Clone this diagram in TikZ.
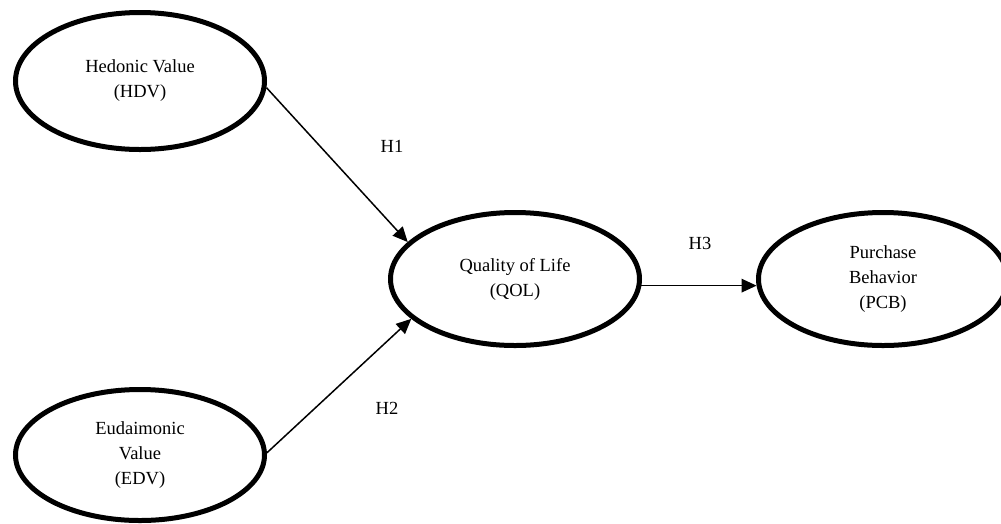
\documentclass[tikz,border=0pt]{standalone}
\usepackage{fontspec}
\setmainfont{Liberation Serif}
\usetikzlibrary{shapes.geometric,arrows.meta}
\begin{document}
\begin{tikzpicture}[x=1pt,y=-1pt,
  construct/.style={ellipse,draw,line width=5pt,inner sep=0pt,
    minimum width=249pt,minimum height=135pt,align=center,
    font=\fontsize{18.5}{25}\selectfont},
  path/.style={line width=1.5pt,-{Triangle[length=15pt,width=13.5pt]}},
  hyp/.style={font=\fontsize{18.5}{25}\selectfont}]
\useasboundingbox (0,0) rectangle (1001,523);
\begin{scope}
\clip (0,0) rectangle (1001,523);
\node[construct,minimum height=137pt] (hdv) at (140,81) {Hedonic Value\\(HDV)};
\node[construct,minimum height=131pt] (edv) at (140,455) {Eudaimonic\\Value\\(EDV)};
\node[construct,minimum height=133pt] (qol) at (515,279) {Quality of Life\\(QOL)};
\node[construct,minimum height=133pt] (pcb) at (883,279) {Purchase\\Behavior\\(PCB)};
\end{scope}
\draw[path] (hdv.-3.2) -- (qol.161.4);
\draw[path] (edv.1.4) -- (qol.201);
\draw[path] (qol.-3.6) -- (pcb.183.7);
\node[hyp] (h1) at (392,146) {H1};
\node[hyp] (h2) at (387,408) {H2};
\node[hyp] (h3) at (700,243) {H3};
\end{tikzpicture}
\end{document}
